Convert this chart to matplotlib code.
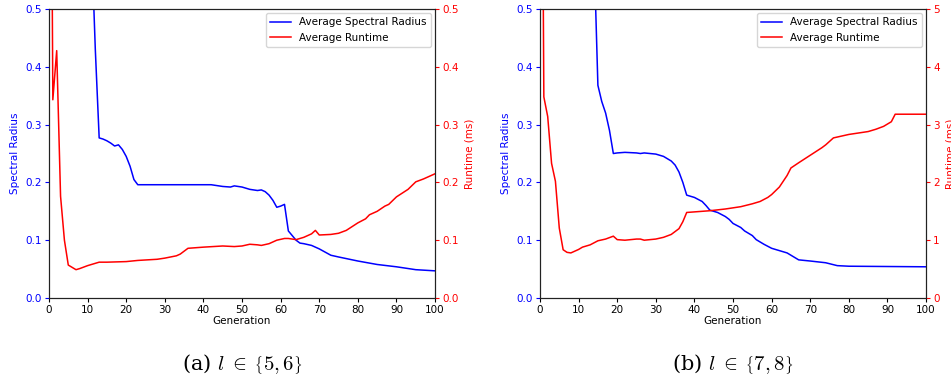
import numpy as np
import matplotlib
matplotlib.use('Agg')
import matplotlib.pyplot as plt

plt.rcParams['font.size'] = 7.5
plt.rcParams['mathtext.fontset'] = 'cm'

# (a) l in {5,6}: (generation, value) readings
gen_a_radius = [0, 5, 10, 11, 12, 13, 14, 15, 16, 17, 18, 19, 20, 21, 22, 23, 30, 40, 42, 43, 45, 47, 48,
                50, 52, 54, 55, 56, 57, 58, 59, 60, 61, 62, 63, 64, 65, 66, 68, 70, 73, 75, 80, 85,
                90, 95, 100]
radius_a = [1.5, 1.2, 0.8, 0.62, 0.43, 0.277, 0.275, 0.272, 0.268, 0.263, 0.265, 0.257, 0.245, 0.228,
            0.205, 0.196, 0.196, 0.196, 0.196, 0.195, 0.193, 0.192, 0.194, 0.192, 0.188, 0.186, 0.187,
            0.184, 0.178, 0.169, 0.157, 0.159, 0.162, 0.116, 0.108, 0.100, 0.095, 0.094, 0.091, 0.085,
            0.074, 0.071, 0.064, 0.058, 0.054, 0.049, 0.047]
gen_a_runtime = [0, 1, 2, 3, 4, 5, 6, 7, 8, 10, 13, 15, 20, 23, 28, 30, 33, 34, 36, 40, 45, 48, 50, 52,
                 54, 55, 57, 59, 61, 62, 64, 66, 68, 69, 70, 73, 75, 77, 80, 82, 83, 85, 87, 88, 90,
                 93, 95, 97, 100]
runtime_a = [1.5, 0.343, 0.428, 0.176, 0.100, 0.057, 0.053, 0.049, 0.051, 0.056, 0.062, 0.062, 0.063,
             0.065, 0.067, 0.069, 0.073, 0.076, 0.086, 0.088, 0.090, 0.089, 0.090, 0.093, 0.092, 0.091,
             0.094, 0.100, 0.103, 0.103, 0.101, 0.105, 0.111, 0.117, 0.109, 0.110, 0.112, 0.117, 0.130,
             0.137, 0.144, 0.150, 0.159, 0.162, 0.175, 0.188, 0.201, 0.206, 0.215]

# (b) l in {7,8}
gen_b_radius = [0, 5, 10, 13, 14, 15, 16, 17, 18, 19, 20, 22, 25, 26, 27, 30, 32, 34, 35, 36, 37, 38,
                40, 42, 43, 44, 46, 48, 49, 50, 52, 53, 55, 56, 58, 60, 62, 64, 66, 67, 70, 74, 77,
                80, 100]
radius_b = [2.0, 1.6, 1.1, 0.8, 0.6, 0.368, 0.340, 0.320, 0.290, 0.250, 0.251, 0.252, 0.251, 0.250,
            0.251, 0.249, 0.245, 0.237, 0.230, 0.218, 0.200, 0.178, 0.174, 0.167, 0.160, 0.152, 0.148,
            0.141, 0.136, 0.129, 0.122, 0.116, 0.108, 0.101, 0.093, 0.086, 0.082, 0.078, 0.070, 0.066,
            0.064, 0.061, 0.056, 0.055, 0.054]
gen_b_runtime = [0, 1, 2, 3, 4, 5, 6, 7, 8, 10, 11, 13, 15, 17, 19, 20, 22, 25, 26, 27, 30, 32, 34, 36,
                 37, 38, 40, 44, 48, 50, 52, 55, 57, 59, 60, 62, 64, 65, 67, 70, 73, 74, 76, 78, 80,
                 85, 87, 89, 91, 92, 100]
runtime_b = [15.0, 3.48, 3.14, 2.33, 2.02, 1.21, 0.835, 0.79, 0.78, 0.84, 0.88, 0.92, 0.99, 1.02, 1.07,
             1.01, 1.00, 1.02, 1.02, 1.00, 1.02, 1.05, 1.10, 1.20, 1.32, 1.48, 1.49, 1.51, 1.54, 1.56,
             1.58, 1.63, 1.67, 1.74, 1.79, 1.92, 2.12, 2.25, 2.34, 2.47, 2.60, 2.65, 2.77, 2.80, 2.83,
             2.88, 2.92, 2.97, 3.05, 3.18, 3.18]

panels = [
    (gen_a_radius, radius_a, gen_a_runtime, runtime_a, 0.5, r'(a) $l\;\in\;\left\{5,6\right\}$'),
    (gen_b_radius, radius_b, gen_b_runtime, runtime_b, 5, r'(b) $l\;\in\;\left\{7,8\right\}$'),
]

fig = plt.figure(figsize=(9.51, 3.79), dpi=100)
lefts = [0.0515, 0.5678]

for left, (gr, rad, gt, rt, rmax, caption) in zip(lefts, panels):
    ax = fig.add_axes([left, 0.2137, 0.406, 0.7625])
    ax2 = ax.twinx()
    l1, = ax.plot(gr, rad, color='b', lw=1.1, label='Average Spectral Radius')
    l2, = ax2.plot(gt, rt, color='r', lw=1.1, label='Average Runtime')
    ax.set_xlim(0, 100)
    ax.set_ylim(0, 0.5)
    ax2.set_ylim(0, rmax)
    ax.set_xticks(np.arange(0, 101, 10))
    ax.set_yticks(np.arange(0, 0.51, 0.1))
    if rmax == 5:
        ax2.set_yticks(np.arange(0, 6, 1))
    else:
        ax2.set_yticks(np.arange(0, 0.51, 0.1))
    ax.set_xlabel('Generation', labelpad=1)
    ax.set_ylabel('Spectral Radius', color='b')
    ax2.set_ylabel('Runtime (ms)', color='r')
    ax.tick_params(axis='y', colors='b', length=3, pad=2)
    ax.tick_params(axis='x', length=3, pad=2)
    ax2.tick_params(axis='y', colors='r', length=3, pad=2)
    for a in (ax, ax2):
        for s in a.spines.values():
            s.set_color('#222222')
    ax.legend(handles=[l1, l2], loc='upper right', fontsize=7.5, framealpha=0.8,
              borderaxespad=0.4)
    fig.text(left + 0.203, 0.04, caption, ha='center', va='center',
             family='serif', fontsize=15)

fig.savefig('out.png', dpi=100)
